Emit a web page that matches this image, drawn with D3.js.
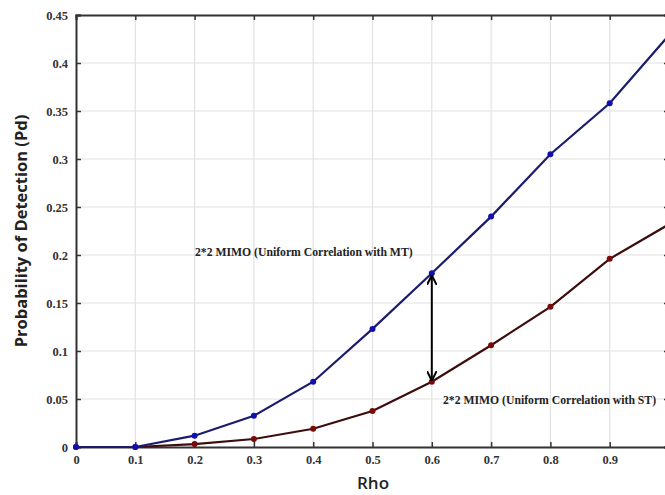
<!DOCTYPE html>
<html><head><meta charset="utf-8">
<script src="https://cdn.jsdelivr.net/npm/d3@7"></script>
<style>body{margin:0;background:#fff}svg{display:block}</style>
</head><body><svg id="c" width="665" height="495"></svg>
<script>
const rho = [0, 0.1, 0.2, 0.3, 0.4, 0.5, 0.6, 0.7, 0.8, 0.9, 1.0];
const pdMT = [0, 0, 0.0118, 0.0326, 0.068, 0.123, 0.181, 0.240, 0.305, 0.358, 0.429];
const pdST = [0, 0, 0.003, 0.0083, 0.019, 0.0375, 0.068, 0.106, 0.146, 0.196, 0.232];
const xTicks = [0, 0.1, 0.2, 0.3, 0.4, 0.5, 0.6, 0.7, 0.8, 0.9];
const yTicks = [0, 0.05, 0.1, 0.15, 0.2, 0.25, 0.3, 0.35, 0.4, 0.45];
const labelMT = "2*2 MIMO (Uniform Correlation with MT)";
const labelST = "2*2 MIMO (Uniform Correlation with ST)";

const svg = d3.select("#c");
const L = 76, R = 669, T = 15, B = 447;
const x = d3.scaleLinear().domain([0, 1]).range([L, R]);
const y = d3.scaleLinear().domain([0, 0.45]).range([B, T]);
const tickFont = "'Liberation Serif', 'Times New Roman', serif";

// grid
const g = svg.append("g");
g.selectAll(".gx").data(xTicks.slice(1)).join("line")
  .attr("x1", d => x(d)).attr("x2", d => x(d)).attr("y1", T).attr("y2", B)
  .attr("stroke", "#e2e2e2").attr("stroke-width", 1.2);
g.selectAll(".gy").data(yTicks.slice(1, -1)).join("line")
  .attr("x1", L).attr("x2", R).attr("y1", d => y(d)).attr("y2", d => y(d))
  .attr("stroke", "#e2e2e2").attr("stroke-width", 1.2);

// axes
const ax = svg.append("g").attr("transform", `translate(0,${B})`)
  .call(d3.axisBottom(x).tickValues(xTicks).tickSize(-5).tickPadding(8).tickFormat(d => d3.format("~g")(d)));
const axT = svg.append("g").attr("transform", `translate(0,${T})`)
  .call(d3.axisTop(x).tickValues(xTicks).tickSize(-5).tickFormat(""));
const ay = svg.append("g").attr("transform", `translate(${L},0)`)
  .call(d3.axisLeft(y).tickValues(yTicks).tickSize(-5).tickPadding(8).tickFormat(d => d3.format("~g")(d)));
const ayR = svg.append("g").attr("transform", `translate(${R},0)`)
  .call(d3.axisRight(y).tickValues(yTicks).tickSize(-5).tickFormat(""));
[ax, axT, ay, ayR].forEach(a => {
  a.select(".domain").attr("stroke", "#333").attr("stroke-width", 2);
  a.selectAll(".tick line").attr("stroke", "#333").attr("stroke-width", 1.5);
  a.selectAll("text").attr("font-family", tickFont).attr("font-weight", "bold")
    .attr("font-size", 12.5).attr("fill", "#333");
});

// lines
const line = d3.line().x((d, i) => x(rho[i])).y(d => y(d));
function series(vals, lineCol, markCol) {
  svg.append("path").datum(vals).attr("d", line).attr("fill", "none")
    .attr("stroke", lineCol).attr("stroke-width", 2.2);
  svg.append("g").selectAll("circle").data(vals).join("circle")
    .attr("cx", (d, i) => x(rho[i])).attr("cy", d => y(d))
    .attr("r", 3).attr("fill", markCol);
}
series(pdST, "#3d0d0d", "#7a0a0a");
series(pdMT, "#1c1c6e", "#1010b0");

// double arrow at rho = 0.6
const ai = rho.indexOf(0.6);
const defs = svg.append("defs");
defs.append("marker").attr("id", "ah").attr("viewBox", "0 0 10 10")
  .attr("refX", 9).attr("refY", 5).attr("markerWidth", 5).attr("markerHeight", 5)
  .attr("orient", "auto-start-reverse").append("path").attr("d", "M0,0 L10,5 L0,10").attr("fill", "none")
  .attr("stroke", "#000").attr("stroke-width", 2);
svg.append("line").attr("x1", x(rho[ai])).attr("x2", x(rho[ai]))
  .attr("y1", y(pdST[ai]) - 2).attr("y2", y(pdMT[ai]) + 3)
  .attr("stroke", "#000").attr("stroke-width", 2)
  .attr("marker-start", "url(#ah)").attr("marker-end", "url(#ah)");

// annotations
svg.append("text").attr("x", 195).attr("y", 256).text(labelMT)
  .attr("font-family", tickFont).attr("font-weight", "bold").attr("font-size", 11.7).attr("fill", "#222");
svg.append("text").attr("x", 443).attr("y", 404).text(labelST)
  .attr("font-family", tickFont).attr("font-weight", "bold").attr("font-size", 11.7).attr("fill", "#222");

// axis titles
svg.append("text").attr("x", 373).attr("y", 489).attr("text-anchor", "middle")
  .text("Rho").attr("font-family", "'Open Sans', 'DejaVu Sans', sans-serif").attr("font-weight", "600")
  .attr("font-size", 17).attr("fill", "#222");
svg.append("text").attr("transform", `translate(27,${(T + B) / 2}) rotate(-90)`).attr("text-anchor", "middle")
  .text("Probability of Detection (Pd)").attr("font-family", "'Open Sans', 'DejaVu Sans', sans-serif")
  .attr("font-weight", "bold").attr("font-size", 16.5).attr("fill", "#222");
</script></body></html>
